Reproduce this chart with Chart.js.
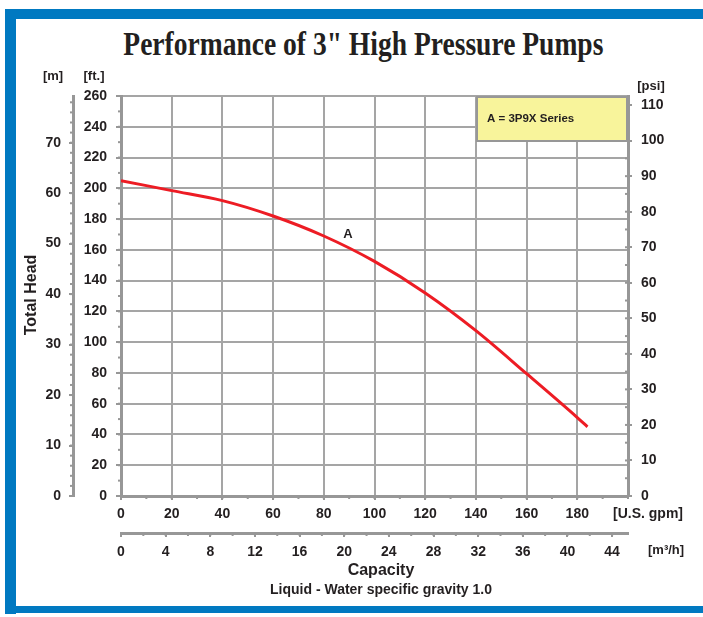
<!DOCTYPE html>
<html>
<head>
<meta charset="utf-8">
<title>Performance of 3" High Pressure Pumps</title>
<script src="https://cdn.jsdelivr.net/npm/chart.js@4.4.1/dist/chart.umd.min.js"></script>
<style>
html, body { margin: 0; padding: 0; background: #fff; }
#wrap { position: relative; width: 703px; height: 617px; overflow: hidden; background: #fff; }
.band { position: absolute; background: #0079c1; }
#title {
    position: absolute; left: 12px; width: 703px; top: 27px; text-align: center;
    font-family: 'Liberation Serif', 'Times New Roman', serif; font-weight: bold;
    font-size: 34px; line-height: 34px; color: #231f20;
}
#title span { display: inline-block; transform: scaleX(0.81); transform-origin: center; white-space: nowrap; }
#chart-box { position: absolute; left: 0; top: 0; width: 703px; height: 617px; }
</style>
</head>
<body>
<div id="wrap">
    <div class="band" style="left:5px; top:9px; width:698px; height:10px;"></div>
    <div class="band" style="left:5px; top:9px; width:11px; height:605px;"></div>
    <div class="band" style="left:5px; top:606px; width:698px; height:7px;"></div>
    <div id="title"><span>Performance of 3" High Pressure Pumps</span></div>
    <div id="chart-box"><canvas id="pump-chart"></canvas></div>
</div>
<script>
// curve A: capacity [U.S. gpm] vs head [ft]
const capacityGpm = [0, 20, 40, 60, 80, 100, 120, 140, 160, 180, 184];
const headFt = [205, 198.5, 192, 182, 169, 152.5, 132, 107.5, 79.5, 51, 45];

// tick labels
const gpmTicks = [0, 20, 40, 60, 80, 100, 120, 140, 160, 180];
const m3hTicks = [0, 4, 8, 12, 16, 20, 24, 28, 32, 36, 40, 44];
const ftTicks = [0, 20, 40, 60, 80, 100, 120, 140, 160, 180, 200, 220, 240, 260];
const mTicks = [0, 10, 20, 30, 40, 50, 60, 70];
const psiTicks = [0, 10, 20, 30, 40, 50, 60, 70, 80, 90, 100, 110];

const seriesName = 'A';
const legendText = 'A = 3P9X Series';

// unit conversions
const M_PER_FT = 0.3048;
const FT_PER_PSI = 2.31;
const GPM_PER_M3H = 4.4029;
const GPM_MAX = 200;
const FT_MAX = 260;

const fontFamily = "'Liberation Sans', Arial, sans-serif";
const tickFont = { family: fontFamily, size: 14, weight: 'bold' };
const textCol = '#231f20';
const gridCol = '#a5a5a5';
const axisCol = '#979797';

function fixedTicks(list) {
    return function(scale) {
        scale.ticks = list.map(v => ({ value: v }));
    };
}

const minorTicks = {
    id: 'minorTicks',
    afterDraw(chart) {
        const ctx = chart.ctx;
        ctx.save();
        ctx.strokeStyle = axisCol;
        ctx.lineWidth = 2;
        const draw = (id, step, len) => {
            const s = chart.scales[id];
            for (let v = 0; v <= s.max + 1e-6; v += step) {
                const p = s.getPixelForValue(v);
                ctx.beginPath();
                if (s.isHorizontal()) {
                    ctx.moveTo(p, s.top);
                    ctx.lineTo(p, s.top + len);
                } else if (s.position === 'left') {
                    ctx.moveTo(s.right, p);
                    ctx.lineTo(s.right - len, p);
                } else {
                    ctx.moveTo(s.left, p);
                    ctx.lineTo(s.left - len, p);
                }
                ctx.stroke();
            }
        };
        draw('x', 10, 3);
        draw('x2', 2, 3);
        draw('y', 10, 3);
        draw('y2', 2, 3);
        draw('y3', 5, 3);
        ctx.restore();
    }
};

const extraText = {
    id: 'extraText',
    afterDraw(chart) {
        const ctx = chart.ctx;
        ctx.save();
        ctx.fillStyle = textCol;
        ctx.textBaseline = 'middle';

        const put = (txt, x, y, size, align) => {
            ctx.font = 'bold ' + size + 'px ' + fontFamily;
            ctx.textAlign = align || 'center';
            ctx.fillText(txt, x, y);
        };

        // unit labels
        put('[m]', 53, 76, 13);
        put('[ft.]', 94, 76, 13);
        put('[psi]', 651, 86, 13);
        put('[U.S. gpm]', 613, 514, 14, 'left');
        put('[m³/h]', 648, 550, 13, 'left');

        // axis titles
        put('Capacity', 381, 571, 16);
        put('Liquid - Water specific gravity 1.0', 381, 590, 14);
        ctx.save();
        ctx.translate(32, 295);
        ctx.rotate(-Math.PI / 2);
        put('Total Head', 0, 0, 16);
        ctx.restore();

        // legend box
        ctx.fillStyle = '#f8f49b';
        ctx.fillRect(477, 97, 150, 44);
        ctx.strokeStyle = axisCol;
        ctx.lineWidth = 2;
        ctx.strokeRect(477, 97, 150, 44);
        ctx.fillStyle = textCol;
        put(legendText, 487, 119, 11.5, 'left');

        // curve label
        const sx = chart.scales.x, sy = chart.scales.y;
        put(seriesName, sx.getPixelForValue(89.5), sy.getPixelForValue(170), 13);
        ctx.restore();
    }
};

new Chart(document.getElementById('pump-chart'), {
    type: 'line',
    data: {
        datasets: [{
            label: seriesName,
            data: capacityGpm.map((q, i) => ({ x: q, y: headFt[i] })),
            borderColor: '#ed1c24',
            borderWidth: 3,
            pointRadius: 0,
            fill: false,
            cubicInterpolationMode: 'monotone',
            xAxisID: 'x',
            yAxisID: 'y'
        }]
    },
    options: {
        responsive: true,
        maintainAspectRatio: false,
        animation: false,
        devicePixelRatio: 1,
        layout: { padding: { left: 16, right: 0, top: 96, bottom: 40 } },
        plugins: {
            legend: { display: false },
            title: { display: false },
            tooltip: { enabled: false }
        },
        scales: {
            x: {
                type: 'linear', position: 'bottom', min: 0, max: GPM_MAX, weight: 0,
                afterBuildTicks: fixedTicks(gpmTicks),
                afterFit: s => { s.height = 37; },
                grid: { color: gridCol, lineWidth: 2, tickLength: 4, tickColor: axisCol },
                border: { color: axisCol, width: 3 },
                ticks: { font: tickFont, color: textCol, padding: 6, maxRotation: 0, autoSkip: false }
            },
            x2: {
                type: 'linear', position: 'bottom', min: 0, max: GPM_MAX / GPM_PER_M3H, weight: 1,
                afterBuildTicks: fixedTicks(m3hTicks),
                afterFit: s => { s.height = 44; },
                grid: { drawOnChartArea: false, color: axisCol, lineWidth: 2, tickLength: 4 },
                border: { color: axisCol, width: 3 },
                ticks: { font: tickFont, color: textCol, padding: 7, maxRotation: 0, autoSkip: false }
            },
            y: {
                type: 'linear', position: 'left', min: 0, max: FT_MAX, weight: 0,
                afterBuildTicks: fixedTicks(ftTicks),
                afterFit: s => { s.width = 48; },
                grid: { color: gridCol, lineWidth: 2, tickLength: 5, tickColor: axisCol },
                border: { color: axisCol, width: 3 },
                ticks: { font: tickFont, color: textCol, padding: 9, autoSkip: false }
            },
            y2: {
                type: 'linear', position: 'left', min: 0, max: FT_MAX * M_PER_FT, weight: 1,
                afterBuildTicks: fixedTicks(mTicks),
                afterFit: s => { s.width = 57; },
                grid: { drawOnChartArea: false, color: axisCol, lineWidth: 2, tickLength: 4 },
                border: { color: axisCol, width: 3 },
                ticks: { font: tickFont, color: textCol, padding: 8, autoSkip: false }
            },
            y3: {
                type: 'linear', position: 'right', min: 0, max: FT_MAX / FT_PER_PSI,
                afterBuildTicks: fixedTicks(psiTicks),
                afterFit: s => { s.width = 75; },
                grid: { drawOnChartArea: false, color: axisCol, lineWidth: 2, tickLength: 4 },
                border: { color: axisCol, width: 3 },
                ticks: { font: tickFont, color: textCol, padding: 9, autoSkip: false }
            }
        }
    },
    plugins: [minorTicks, extraText]
});
</script>
</body>
</html>
